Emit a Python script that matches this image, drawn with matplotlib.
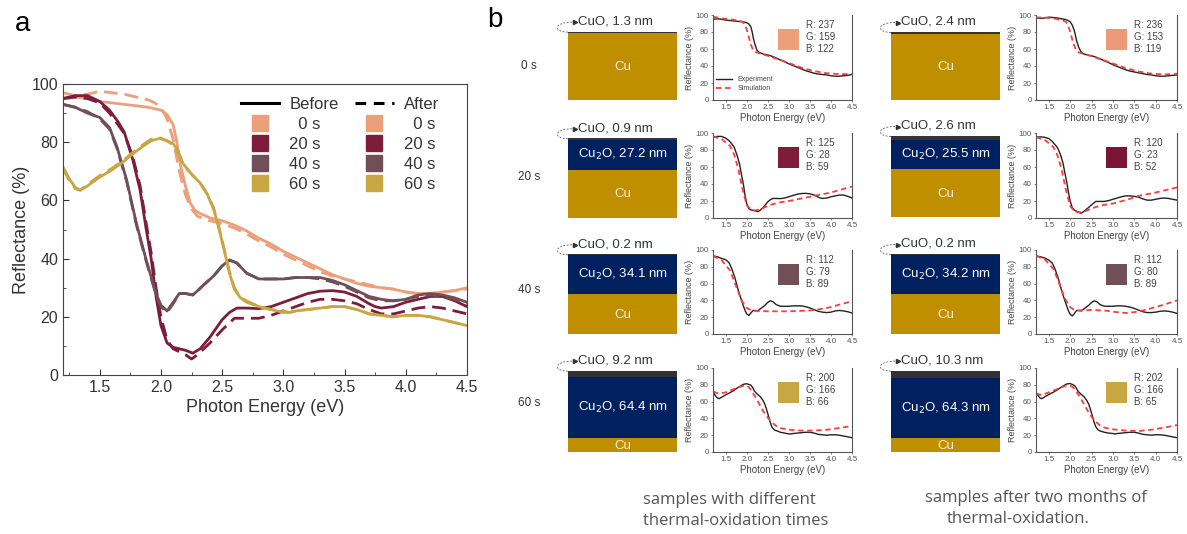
import matplotlib
matplotlib.use('Agg')
import matplotlib.pyplot as plt
from matplotlib.lines import Line2D
from matplotlib.patches import Rectangle, PathPatch
from matplotlib.path import Path
from matplotlib.ticker import MultipleLocator

plt.rcParams['font.family'] = ['Liberation Sans', 'DejaVu Sans']

# ---------------- data ----------------
times = ['0', '20', '40', '60']
colors = ['#ED9F7A', '#7D1C3B', '#704F59', '#C8A642']

E_0b = [1.2,1.3,1.4,1.5,1.6,1.7,1.8,1.9,2.0,2.05,2.1,2.13,2.16,2.2,2.24,2.28,2.32,2.4,2.5,2.6,2.7,2.8,2.9,3.0,3.1,3.2,3.3,3.4,3.5,3.6,3.7,3.8,3.9,4.0,4.1,4.2,4.3,4.4,4.5]
R_0b = [95,95.5,95,94,93.5,93,92.5,92,91,89.5,86,80,72,65,59,56.5,55.5,54,53,51.5,49.5,47,45,42.5,40.5,38.5,36.5,34.5,33,31.5,30.5,30,29.5,28.5,28,28,28.5,29,30]
E_0a = [1.2,1.3,1.4,1.5,1.6,1.7,1.8,1.9,1.95,2.0,2.05,2.1,2.15,2.2,2.25,2.3,2.4,2.5,2.6,2.7,2.8,2.9,3.0,3.1,3.2,3.3,3.4,3.5,3.6,3.7,3.8,3.9,4.0,4.1,4.2,4.3,4.4,4.5]
R_0a = [97,96,96.5,97.5,97,96.5,95.5,94.5,93.5,92,88,81,70,62,57,54.5,53,52,50.5,48.5,46,44,41.5,39.5,37.5,35.5,34,33,32,31,30,29.5,28.5,28,28,28.5,29,29.5]

E_20b = [1.2,1.3,1.4,1.45,1.5,1.58,1.65,1.7,1.77,1.83,1.88,1.92,1.96,2.0,2.05,2.1,2.15,2.2,2.26,2.32,2.4,2.5,2.56,2.62,2.7,2.8,2.9,3.0,3.1,3.2,3.3,3.4,3.5,3.6,3.7,3.75,3.8,3.9,4.0,4.1,4.2,4.3,4.4,4.5]
R_20b = [95,96,96,95,94,91,87,83.5,74,63.5,50,40,27,17,11,9.5,9,8.5,7.5,9,13,19,21.5,23,23,22.8,23.5,25,26.5,28,28.8,29,28.5,27,24.5,23.5,23,23.5,25,26,27,27,25.5,23.5]
E_20a = [1.2,1.3,1.4,1.5,1.58,1.65,1.7,1.77,1.83,1.88,1.92,1.96,2.0,2.05,2.1,2.15,2.2,2.25,2.3,2.4,2.5,2.6,2.7,2.8,2.9,3.0,3.1,3.2,3.3,3.4,3.5,3.6,3.7,3.8,3.9,4.0,4.1,4.2,4.3,4.4,4.5]
R_20a = [95,95.5,95,93.5,90,86,83,75,65,52,42,30,20,12,9,8,7,5.5,7,11,15.5,19.5,19.5,19.5,20.5,22,23.5,25,26,26,25.5,24.5,22.5,21,21,22,23,23.5,23,22,21]

E_40b = [1.2,1.3,1.4,1.5,1.58,1.64,1.72,1.8,1.88,1.96,2.0,2.05,2.1,2.15,2.2,2.26,2.3,2.35,2.43,2.5,2.56,2.62,2.7,2.8,2.9,3.0,3.1,3.2,3.3,3.4,3.5,3.6,3.7,3.8,3.9,4.0,4.1,4.2,4.3,4.4,4.5]
R_40b = [93,92,90,88.5,85,78.5,67,52,39.5,28,24,22,25,28,28,27.5,29,31,34,37.5,39.5,38.5,35,33,33,33,33.5,33.5,33.5,32.5,31,29,27,26,25.5,26,27.5,28,27.5,26.5,25]
E_40a = [1.2,1.3,1.4,1.5,1.58,1.64,1.72,1.8,1.88,1.96,2.0,2.05,2.1,2.15,2.2,2.26,2.3,2.35,2.43,2.5,2.56,2.62,2.7,2.8,2.9,3.0,3.1,3.2,3.3,3.4,3.5,3.6,3.7,3.8,3.9,4.0,4.1,4.2,4.3,4.4,4.5]
R_40a = [93,92,90.5,88,84.5,78,66.5,51.5,39,27.5,23.5,21.5,24.5,28,28,27.5,29,31,34,37.5,39.5,38.5,35,33,33,33,33.5,33.5,33,32,30.5,28.5,26.5,25.5,25.5,26,27,27.5,27,26,24.5]

E_60b = [1.2,1.25,1.3,1.34,1.4,1.5,1.6,1.7,1.77,1.85,1.92,1.99,2.05,2.1,2.14,2.18,2.25,2.32,2.38,2.43,2.47,2.51,2.56,2.6,2.65,2.7,2.8,2.9,3.0,3.05,3.1,3.2,3.3,3.4,3.5,3.6,3.7,3.8,3.9,4.0,4.1,4.2,4.3,4.4,4.5]
R_60b = [71.5,67.5,64.5,63.5,65,68,70.5,73.5,76,78.5,80.5,81.3,80.5,79.5,77,72.7,69,66,62,57,51,44,35,29.5,26.5,25.5,23.5,22.5,21.5,21.5,22,22.5,23,23.5,23.5,22.5,21,20.5,20,20.5,20.5,20,19,18,17]
E_60a = [1.2,1.25,1.3,1.34,1.4,1.5,1.6,1.7,1.77,1.85,1.92,1.99,2.05,2.1,2.14,2.18,2.25,2.32,2.38,2.43,2.47,2.51,2.56,2.6,2.65,2.7,2.8,2.9,3.0,3.05,3.1,3.2,3.3,3.4,3.5,3.6,3.7,3.8,3.9,4.0,4.1,4.2,4.3,4.4,4.5]
R_60a = [71,67,64,63.5,65.5,68.5,71,74,76.5,79,81,81.5,80.5,79,76.5,72.5,69,66,62,57.5,51.5,44.5,35.5,30,26.5,25,23.5,22.5,22,21.5,22,22.5,23,23.5,23.5,22.5,21,20.5,20,20.5,20.5,20,19,18,17]

# simulations (panel b)
Es_0 = [1.2,1.4,1.6,1.8,1.9,1.95,2.0,2.05,2.1,2.15,2.2,2.3,2.5,2.8,3.0,3.3,3.6,3.9,4.2,4.5]
Rs_0_before = [98,96,95,93.5,92,89,83,74,65,59,56.5,55,52,47,43.5,38,34,31.5,30.5,30.5]
Rs_0_after = [97,97,96,94,92,88,80,71,63,58,56,54.5,51.5,46.5,43,37.5,33.5,31,30,31]
Es_20 = [1.2,1.4,1.6,1.7,1.8,1.9,2.0,2.1,2.2,2.3,2.4,2.6,2.8,3.0,3.3,3.6,4.0,4.5]
Rs_20_before = [96,93,85,75,58,34,15,10,9,10,12,16,18.5,20,23,26,30,37]
Rs_20_after = [95,92,84,74,57,33,14,8,6.5,7,9,13,15.5,17,21,26,30,36]
Es_40b = [1.2,1.4,1.6,1.7,1.8,1.9,2.0,2.1,2.2,2.5,3.0,3.5,3.8,4.0,4.2,4.5]
Rs_40_before = [93,88,76,63,50,38,31,28.5,27.5,27,27,28,30,32,35,39]
Es_40a = [1.2,1.4,1.6,1.7,1.8,1.9,2.0,2.1,2.2,2.5,2.8,3.0,3.3,3.5,3.7,4.0,4.2,4.5]
Rs_40_after = [93,89,78,66,52,40,32,28.5,28,28.5,28,26.5,25,26,28,32,35,40]
Es_60 = [1.2,1.3,1.4,1.5,1.6,1.7,1.8,1.9,2.0,2.05,2.1,2.2,2.3,2.4,2.5,2.6,2.7,2.8,3.0,3.3,3.6,3.9,4.2,4.5]
Rs_60_before = [72,70,70,71,73,75,77,78.5,79,77,74,66,57,48,41,35,31,28.5,26.5,25.5,25.5,26.5,28.5,31]
Rs_60_after = [70,68,69,71,73,75,77,79,79,77.5,75,68,59,50,42,36,31.5,29,27,25.5,25,26.5,29,32]

cuo_before = ['1.3', '0.9', '0.2', '9.2']
cuo_after = ['2.4', '2.6', '0.2', '10.3']
cu2o_before = [None, '27.2', '34.1', '64.4']
cu2o_after = [None, '25.5', '34.2', '64.3']
rgb_before = [(237,159,122), (125,28,59), (112,79,89), (200,166,66)]
rgb_after = [(236,153,119), (120,23,52), (112,80,89), (202,166,65)]

exp_before = [(E_0b, R_0b), (E_20b, R_20b), (E_40b, R_40b), (E_60b, R_60b)]
exp_after = [(E_0a, R_0a), (E_20a, R_20a), (E_40a, R_40a), (E_60a, R_60a)]
sim_before = [(Es_0, Rs_0_before), (Es_20, Rs_20_before), (Es_40b, Rs_40_before), (Es_60, Rs_60_before)]
sim_after = [(Es_0, Rs_0_after), (Es_20, Rs_20_after), (Es_40a, Rs_40_after), (Es_60, Rs_60_after)]

# ---------------- figure ----------------
W, H = 1187, 534
fig = plt.figure(figsize=(W / 100, H / 100), dpi=100)

def px_axes(x0, y0, x1, y1):
    return fig.add_axes([x0 / W, 1 - y1 / H, (x1 - x0) / W, (y1 - y0) / H])

ov = fig.add_axes([0, 0, 1, 1])
ov.set_xlim(0, W)
ov.set_ylim(H, 0)
ov.axis('off')
ov.set_zorder(-1)

TXT = '#333333'

# ---------------- panel a ----------------
axa = px_axes(63, 84, 467, 375)
for i in range(4):
    axa.plot(*exp_before[i], color=colors[i], lw=2.0, solid_capstyle='round')
    axa.plot(*exp_after[i], color=colors[i], lw=2.0, ls=(0, (5, 2.5)))
axa.set_xlim(1.2, 4.5)
axa.set_ylim(0, 100)
axa.xaxis.set_major_locator(MultipleLocator(0.5))
axa.xaxis.set_minor_locator(MultipleLocator(0.25))
axa.yaxis.set_major_locator(MultipleLocator(20))
axa.yaxis.set_minor_locator(MultipleLocator(10))
axa.tick_params(which='both', direction='in', labelsize=11.5, colors=TXT, labelcolor=TXT)
axa.tick_params(which='major', length=4)
axa.tick_params(which='minor', length=2)
for s in axa.spines.values():
    s.set_color('#444444')
axa.set_xlabel('Photon Energy (eV)', fontsize=13, color=TXT, labelpad=3)
axa.set_ylabel('Reflectance (%)', fontsize=13, color=TXT, labelpad=1)

hb = [Line2D([], [], color='k', lw=2.2, label='Before')]
ha = [Line2D([], [], color='k', lw=2.2, ls=(0, (3.5, 2.5)), label='After')]
for t, c in zip(times, colors):
    lab = ('  ' if len(t) == 1 else '') + t + ' s'
    hb.append(Line2D([], [], marker='s', ls='none', ms=11, color=c, label=lab))
    ha.append(Line2D([], [], marker='s', ls='none', ms=11, color=c, label=lab))
leg = axa.legend(handles=hb + ha, ncol=2, loc='upper right', bbox_to_anchor=(0.955, 0.99),
                 frameon=False, fontsize=12, handlelength=2.3, labelspacing=0.3,
                 columnspacing=1.0, handletextpad=0.6, borderaxespad=0.2)
for t in leg.get_texts():
    t.set_color(TXT)

ov.text(23, 24, 'a', fontsize=20, ha='center', va='center', color='black')
ov.text(495, 20, 'b', fontsize=20, ha='center', va='center', color='black')

# ---------------- panel b ----------------
schem_x = [568, 891]
schem_w = 109
plot_x = [(713, 852), (1036, 1177)]
plot_y = [(15, 100), (133, 218), (250, 334), (368, 452)]
row_lab_y = [66, 177, 290, 403]
# layer layout (pixels): top, CuO bottom, Cu2O bottom, Cu bottom for each column
layers = [
    [(31.7, 33.3, 33.3, 100), (32, 34, 34, 100)],
    [(138.3, 139.6, 170, 217.7), (136, 140, 169.3, 217.3)],
    [(254.3, 255.0, 294, 334), (254, 254.8, 294, 334)],
    [(370.7, 376.7, 438.3, 452.3), (370.7, 378.3, 438.3, 452.3)],
]
CU = '#BF8F00'
CU2O = '#002060'
CUO = '#333333'

swatches = []  # (x, y, rgb) drawn on top layer after all subplots exist

for r in range(4):
    ov.text(529, row_lab_y[r], times[r] + ' s', fontsize=8.5, ha='center', va='center', color=TXT)
    for c in range(2):
        x0 = schem_x[c]
        t0, b_cuo, b_cu2o, b_cu = layers[r][c]
        ov.add_patch(Rectangle((x0, t0), schem_w, b_cuo - t0, color=CUO, lw=0))
        if b_cu2o > b_cuo:
            ov.add_patch(Rectangle((x0, b_cuo), schem_w, b_cu2o - b_cuo, color=CU2O, lw=0))
            thick = (cu2o_before if c == 0 else cu2o_after)[r]
            ov.text(x0 + schem_w / 2, (b_cuo + b_cu2o) / 2, 'Cu$_2$O, ' + thick + ' nm',
                    fontsize=9.5, color='white', ha='center', va='center')
        ov.add_patch(Rectangle((x0, b_cu2o), schem_w, b_cu - b_cu2o, color=CU, lw=0))
        ov.text(x0 + schem_w / 2, (b_cu2o + b_cu) / 2 + 0.5, 'Cu', fontsize=9.5,
                color='#F5ECD8', ha='center', va='center')
        cuo = (cuo_before if c == 0 else cuo_after)[r]
        ov.text(x0 + 10, t0 - 10, 'CuO, ' + cuo + ' nm', fontsize=9.5, color=TXT,
                ha='left', va='center')
        # dashed looping arrow
        p = Path([(x0, t0 + 0.5), (x0 - 16, t0), (x0 - 14, t0 - 10), (x0 + 6, t0 - 9.5)],
                 [Path.MOVETO, Path.CURVE4, Path.CURVE4, Path.CURVE4])
        ov.add_patch(PathPatch(p, fill=False, ec='#777777', lw=0.7, ls=(0, (2, 1.5))))
        ov.plot([x0 + 6.5], [t0 - 9.5], marker='>', ms=3, color='#333333', ls='none')

        # reflectance subplot
        px0, px1 = plot_x[c]
        py0, py1 = plot_y[r]
        ax = px_axes(px0, py0, px1, py1)
        e = (exp_before if c == 0 else exp_after)[r]
        s = (sim_before if c == 0 else sim_after)[r]
        ax.plot(*e, color='#222222', lw=1.0, label='Experiment')
        ax.plot(*s, color='#FF3B3B', lw=1.3, ls=(0, (3, 2)), label='Simulation')
        ax.set_xlim(1.2, 4.5)
        ax.set_ylim(0, 100)
        ax.xaxis.set_major_locator(MultipleLocator(0.5))
        ax.yaxis.set_major_locator(MultipleLocator(20))
        ax.tick_params(labelsize=5.8, length=1.5, width=0.5, pad=1.5, colors='#555555',
                       labelcolor='#555555')
        ax.spines['top'].set_visible(False)
        for sp in ('left', 'bottom', 'right'):
            ax.spines[sp].set_color('#555555')
            ax.spines[sp].set_linewidth(0.8)
        ax.set_ylabel('Reflectance (%)', fontsize=6.5, color='#444444', labelpad=1)
        ax.set_xlabel('Photon Energy (eV)', fontsize=7, color='#444444', labelpad=1)
        if r == 0 and c == 0:
            lg = ax.legend(loc='lower left', frameon=False, fontsize=5, handlelength=2.2,
                           labelspacing=0.3, borderaxespad=0.1, bbox_to_anchor=(0.0, 0.05))
            for t in lg.get_texts():
                t.set_color('#444444')
        rgb = (rgb_before if c == 0 else rgb_after)[r]
        sw_x = px0 + 65 if c == 0 else px0 + 70
        swatches.append((sw_x, py0, rgb))

top = fig.add_axes([0, 0, 1, 1])
top.set_xlim(0, W)
top.set_ylim(H, 0)
top.axis('off')
top.patch.set_alpha(0)
top.set_zorder(10)
for sw_x, py0, rgb in swatches:
    top.add_patch(Rectangle((sw_x, py0 + 14), 21, 21,
                            color=tuple(v / 255 for v in rgb), lw=0))
    for k, (nm, v) in enumerate(zip('RGB', rgb)):
        top.text(sw_x + 28, py0 + 10 + 12 * k, f'{nm}: {v}',
                 fontsize=7, color='#444444', ha='left', va='center')

capfont = ['Open Sans', 'DejaVu Sans']
fig.text(643 / W, 1 - 500 / H, 'samples with different', fontsize=12, family=capfont,
         color='#555555', ha='left', va='center')
fig.text(643 / W, 1 - 521 / H, 'thermal-oxidation times', fontsize=12, family=capfont,
         color='#555555', ha='left', va='center')
fig.text(925 / W, 1 - 498 / H, 'samples after two months of', fontsize=12, family=capfont,
         color='#555555', ha='left', va='center')
fig.text(947 / W, 1 - 519 / H, 'thermal-oxidation.', fontsize=12, family=capfont,
         color='#555555', ha='left', va='center')

fig.savefig('out.png', dpi=100)
